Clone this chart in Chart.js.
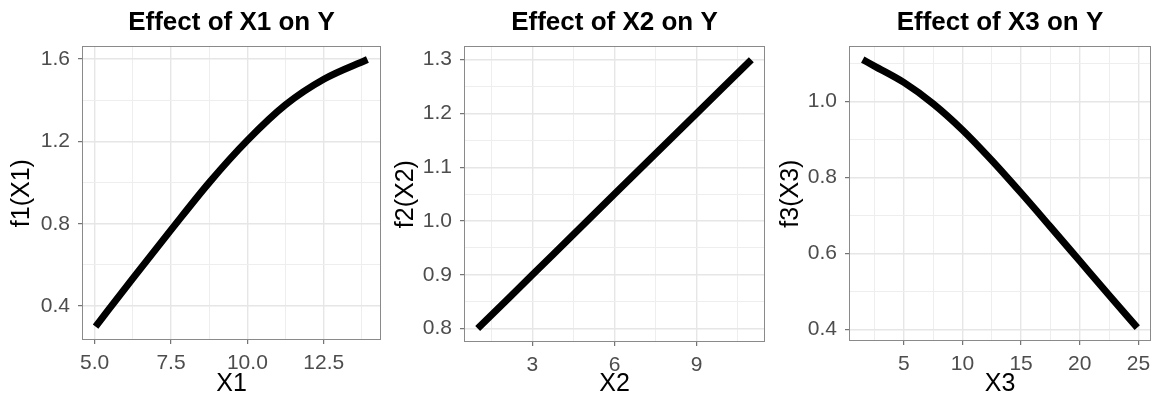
<!DOCTYPE html>
<html>
<head>
<meta charset="utf-8">
<script src="https://cdn.jsdelivr.net/npm/chart.js@4.4.1/dist/chart.umd.min.js"></script>
<style>
  body { margin: 0; background: #fff; }
  canvas { position: absolute; top: 0; }
</style>
</head>
<body>
<canvas id="c1" width="386" height="400" style="left:0px"></canvas>
<canvas id="c2" width="386" height="400" style="left:386px"></canvas>
<canvas id="c3" width="387" height="400" style="left:772px"></canvas>
<script>
// panel texts
const titles = ['Effect of X1 on Y', 'Effect of X2 on Y', 'Effect of X3 on Y'];
const xTitles = ['X1', 'X2', 'X3'];
const yTitles = ['f1(X1)', 'f2(X2)', 'f3(X3)'];

// curves
const x1 = [5.03, 6.25, 7.5, 8.75, 10.0, 11.25, 12.5, 13.93];
const f1 = [0.30, 0.535, 0.77, 1.0, 1.205, 1.378, 1.502, 1.598];
const x2 = [1, 3, 6, 9, 11];
const f2 = [0.80, 0.90, 1.05, 1.20, 1.30];
const x3 = [1.5, 2.5, 5, 7.5, 10, 12.5, 15, 17.5, 20, 22.5, 24.9];
const f3 = [1.11, 1.093, 1.05, 0.994, 0.925, 0.845, 0.759, 0.67, 0.58, 0.49, 0.405];

// labelled ticks (minor grid lines sit halfway between)
const x1Ticks = ['5.0', '7.5', '10.0', '12.5'];
const y1Ticks = ['0.4', '0.8', '1.2', '1.6'];
const x2Ticks = ['3', '6', '9'];
const y2Ticks = ['0.8', '0.9', '1.0', '1.1', '1.2', '1.3'];
const x3Ticks = ['5', '10', '15', '20', '25'];
const y3Ticks = ['0.4', '0.6', '0.8', '1.0'];

const FONT = '"Liberation Sans", Arial, Helvetica, sans-serif';

// per panel box sizes so the plot areas line up with the reference
const panels = [
  { id: 'c1', xs: x1, ys: f1, xt: x1Ticks, yt: y1Ticks, yW: 82, padR: 5, xH: 60, yTitlePad: 7 },
  { id: 'c2', xs: x2, ys: f2, xt: x2Ticks, yt: y2Ticks, yW: 78, padR: 7, xH: 58, yTitlePad: 5 },
  { id: 'c3', xs: x3, ys: f3, xt: x3Ticks, yt: y3Ticks, yW: 77, padR: 8, xH: 59, yTitlePad: 4 }
];

const panelBorder = {
  id: 'panelBorder',
  afterDraw(chart) {
    const { ctx, chartArea: a } = chart;
    ctx.save();
    ctx.strokeStyle = '#8a8a8a';
    ctx.lineWidth = 1;
    ctx.strokeRect(Math.round(a.left) + 0.5, Math.round(a.top) + 0.5,
                   Math.round(a.width) - 1, Math.round(a.height) - 1);
    ctx.restore();
  }
};

function findLabel(labels, v) {
  for (const l of labels) {
    if (Math.abs(parseFloat(l) - v) < 1e-6) return l;
  }
  return null;
}

function makeScale(vals, labels, opts) {
  const lo = Math.min(...vals), hi = Math.max(...vals);
  const ex = (hi - lo) * 0.05;
  const step = (parseFloat(labels[1]) - parseFloat(labels[0])) / 2;
  return Object.assign({
    type: 'linear',
    min: lo - ex,
    max: hi + ex,
    // major + minor grid positions
    afterBuildTicks: s => {
      const t = [];
      for (let k = Math.ceil(s.min / step - 1e-9); k * step <= s.max + 1e-9; k++) {
        t.push({ value: +(k * step).toFixed(6) });
      }
      s.ticks = t;
    },
    grid: {
      color: c => findLabel(labels, c.tick.value) ? '#e6e6e6' : '#eeeeee',
      lineWidth: c => findLabel(labels, c.tick.value) ? 1.4 : 1,
      drawTicks: true,
      tickLength: 4,
      tickWidth: 1,
      tickColor: c => findLabel(labels, c.tick.value) ? '#555555' : 'rgba(0,0,0,0)'
    },
    border: { display: false },
    ticks: {
      autoSkip: false,
      maxRotation: 0,
      color: '#4d4d4d',
      font: { family: FONT, size: 21 },
      callback: v => findLabel(labels, v) || ''
    }
  }, opts);
}

panels.forEach((p, i) => {
  const ctx = document.getElementById(p.id).getContext('2d');
  const xScale = makeScale(p.xs, p.xt, {
    position: 'bottom',
    title: {
      display: true, text: xTitles[i], color: '#000000',
      font: { family: FONT, size: 25, lineHeight: 1.2 },
      padding: { top: 0, bottom: 1 }
    },
    afterFit: s => { s.height = p.xH; }
  });
  xScale.ticks.padding = 7;
  const yScale = makeScale(p.ys, p.yt, {
    position: 'left',
    title: {
      display: true, text: yTitles[i], color: '#000000',
      font: { family: FONT, size: 25, lineHeight: 1.2 },
      padding: { top: p.yTitlePad, bottom: 0 }
    },
    afterFit: s => { s.width = p.yW; }
  });
  yScale.ticks.padding = 8;

  new Chart(ctx, {
    type: 'line',
    data: {
      datasets: [{
        data: p.xs.map((x, k) => ({ x: x, y: p.ys[k] })),
        borderColor: '#000000',
        borderWidth: 7,
        pointRadius: 0,
        fill: false,
        cubicInterpolationMode: 'monotone'
      }]
    },
    options: {
      responsive: false,
      animation: false,
      layout: { padding: { left: 0, right: p.padR, top: 0, bottom: 0 } },
      plugins: {
        legend: { display: false },
        tooltip: { enabled: false },
        title: {
          display: true,
          text: titles[i],
          fullSize: false,
          color: '#000000',
          font: { family: FONT, size: 26, weight: 'bold', lineHeight: 1.2 },
          padding: { top: 7, bottom: 8 }
        }
      },
      scales: { x: xScale, y: yScale }
    },
    plugins: [panelBorder]
  });
});
</script>
</body>
</html>
